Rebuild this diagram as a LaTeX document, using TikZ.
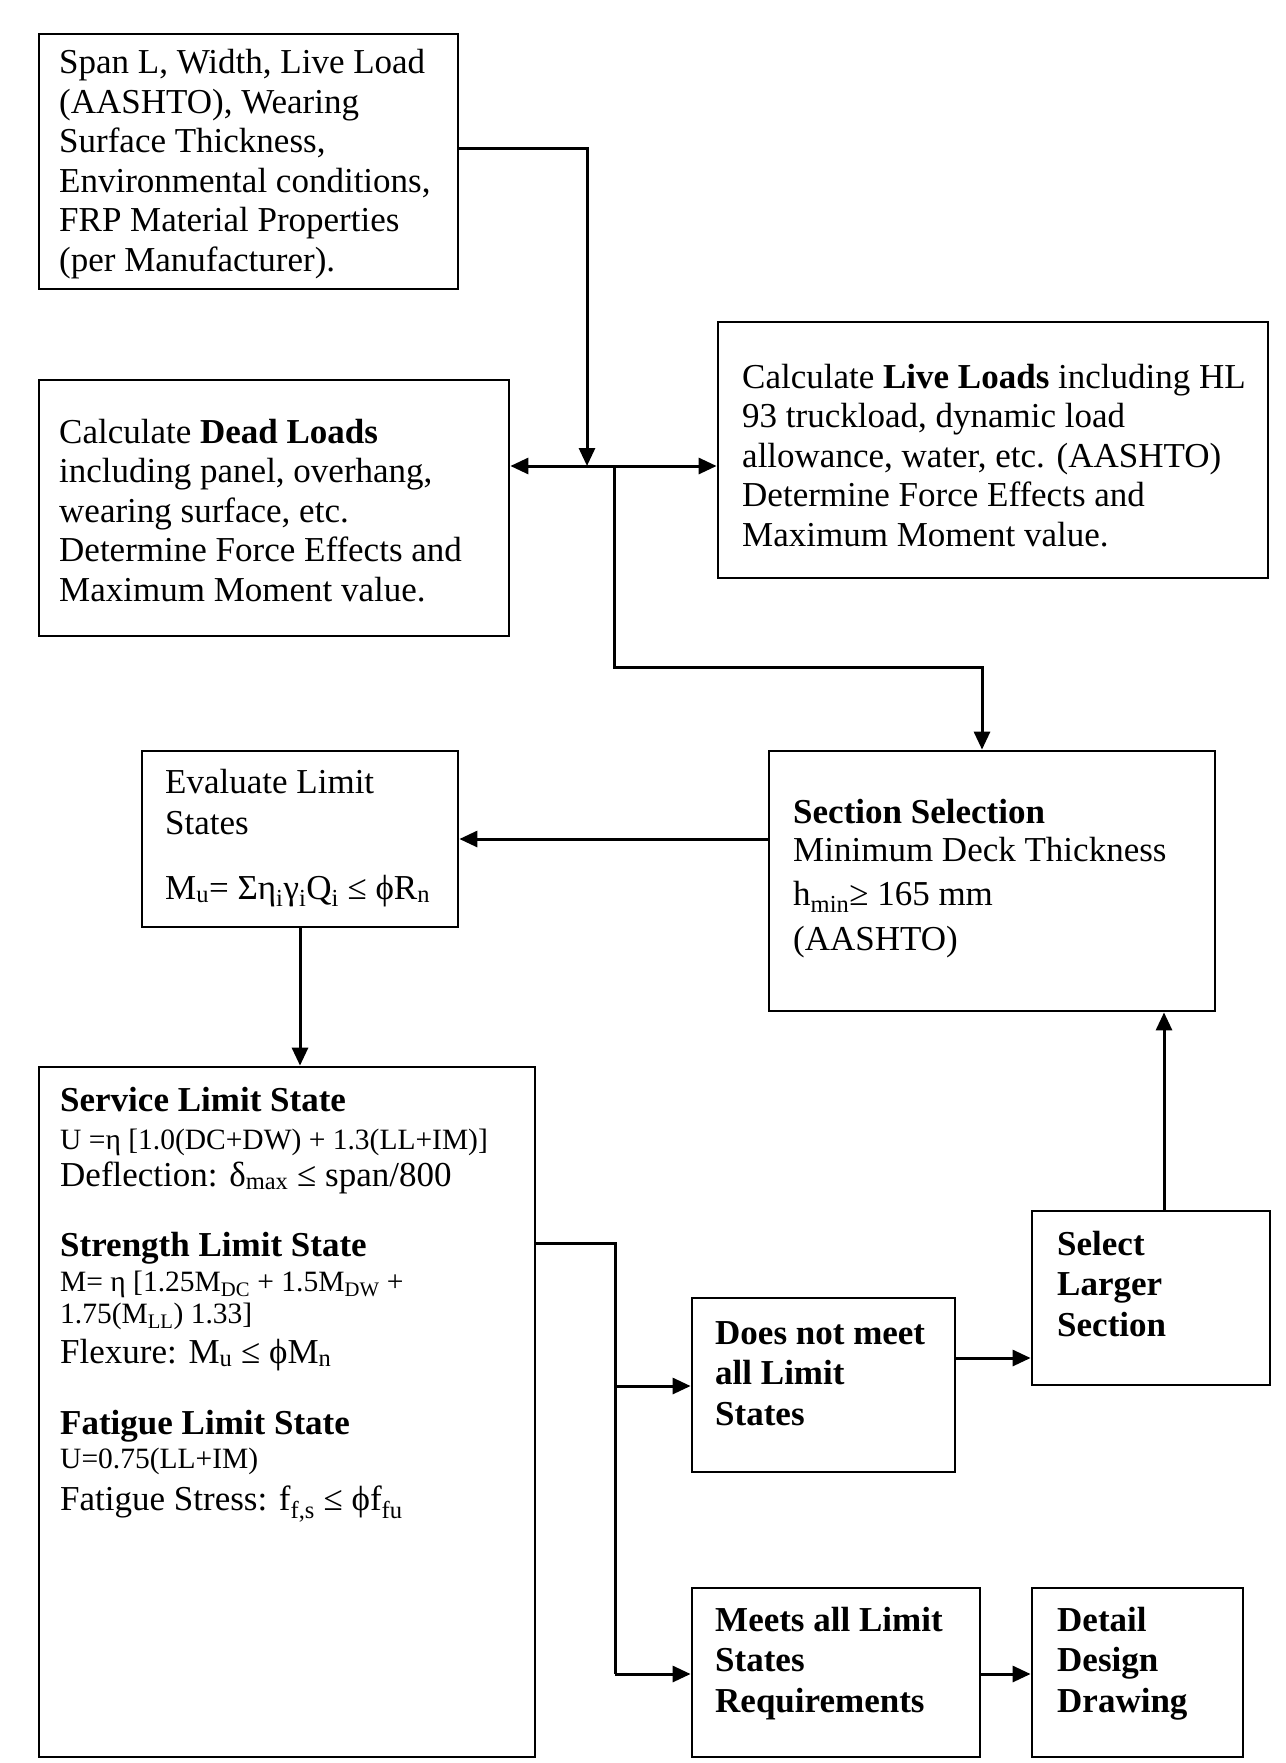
\documentclass[tikz,border=0pt]{standalone}
\usepackage{fontspec}
\setmainfont{Liberation Serif}
\usetikzlibrary{arrows.meta,calc}
\newcommand{\blk}[1]{\begin{tabular}[t]{@{}l@{}}#1\end{tabular}}
\newcommand{\sml}{\fontsize{29.5}{29.5}\selectfont}
\begin{document}
\begin{tikzpicture}[x=1pt,y=-1pt,
  box/.style={draw, line width=2.8pt, inner sep=0pt},
  txt/.style={anchor=base west, inner sep=0pt, font=\fontsize{35}{39.5}\selectfont},
  btxt/.style={anchor=base west, inner sep=0pt, font=\fontsize{35}{40.5}\selectfont\bfseries},
  stxt/.style={anchor=base west, inner sep=0pt, font=\fontsize{35}{35}\selectfont},
  conn/.style={line width=3pt},
  arr/.style={conn, -{Triangle[length=18pt,width=16pt]}},
  arrb/.style={conn, {Triangle[length=18pt,width=16pt]}-{Triangle[length=18pt,width=16pt]}}]
\fill[white] (0,0) rectangle (1285,1763);
\useasboundingbox (0,0) rectangle (1285,1763);

% boxes
\node[box, minimum width=419pt, minimum height=255pt] (inp) at (248.5,161.5) {};
\node[box, minimum width=470pt, minimum height=256pt] (dead) at (274,508) {};
\node[box, minimum width=550pt, minimum height=256pt] (live) at (993,450) {};
\node[box, minimum width=446pt, minimum height=260pt] (sect) at (992,881) {};
\node[box, minimum width=316pt, minimum height=176pt] (eval) at (300,839) {};
\node[box, minimum width=496pt, minimum height=690pt] (serv) at (287,1412) {};
\node[box, minimum width=263pt, minimum height=174pt] (does) at (823.5,1385) {};
\node[box, minimum width=238pt, minimum height=174pt] (sel) at (1151,1298) {};
\node[box, minimum width=288pt, minimum height=169pt] (meets) at (836,1672.5) {};
\node[box, minimum width=211pt, minimum height=169pt] (detail) at (1137.5,1672.5) {};

% texts
\node[txt] (inpT) at (59,74) {\blk{Span L, Width, Live Load\\(AASHTO), Wearing\\Surface Thickness,\\Environmental conditions,\\FRP Material Properties\\(per Manufacturer).}};
\node[txt] (deadT) at (59,443) {\blk{Calculate \textbf{Dead Loads}\\including panel, overhang,\\wearing surface, etc.\\Determine Force Effects and\\Maximum Moment value.}};
\node[txt] (liveT) at (742,388) {\blk{Calculate \textbf{Live Loads} including HL\\93 truckload, dynamic load\\allowance, water, etc. (AASHTO)\\Determine Force Effects and\\Maximum Moment value.}};
\node[txt] (evalT) at (165,793) {\blk{Evaluate Limit\\[1.5pt]States\\[25.5pt]M\textsubscript{u}= Ση\textsubscript{i}γ\textsubscript{i}Q\textsubscript{i} ≤ ϕR\textsubscript{n}}};
\node[txt] (sectT) at (793,823) {\blk{\textbf{Section Selection}\\[-1.5pt]Minimum Deck Thickness\\[4.5pt]h\textsubscript{min}≥ 165 mm\\[5.5pt](AASHTO)}};
\node[stxt] (servT) at (60,1111) {\blk{\textbf{Service Limit State}\\[3pt]
{\sml U =η [1.0(DC+DW) + 1.3(LL+IM)]}\\[2pt]
Deflection: δ\textsubscript{max} ≤ span/800\\[35pt]
\textbf{Strength Limit State}\\
{\sml M= η [1.25M\textsubscript{DC} + 1.5M\textsubscript{DW} +}\\[-3pt]
{\sml 1.75(M\textsubscript{LL}) 1.33]}\\[5pt]
Flexure: M\textsubscript{u} ≤ ϕM\textsubscript{n}\\[36pt]
\textbf{Fatigue Limit State}\\[-1pt]
{\sml U=0.75(LL+IM)}\\[7pt]
Fatigue Stress: f\textsubscript{f,s} ≤ ϕf\textsubscript{fu}}};
\node[btxt] (doesT) at (715,1344) {\blk{Does not meet\\all Limit\\States}};
\node[btxt] (selT) at (1057,1255) {\blk{Select\\Larger\\Section}};
\node[btxt] (meetsT) at (715,1631) {\blk{Meets all Limit\\States\\Requirements}};
\node[btxt] (detailT) at (1057,1631) {\blk{Detail\\Design\\Drawing}};

% connectors
\coordinate (j1) at (587,149);
\coordinate (j2) at (587,466);
\coordinate (j3) at (614,466);
\coordinate (j4) at (614,667);
\coordinate (j5) at (982,667);
\draw[arr] (inp.east |- j1) -- (j1) -- (j2);
\draw[arrb] (dead.east |- j2) -- (live.west |- j2);
\draw[arr] (j3) -- (j4) -- (j5) -- (j5 |- sect.north);
\draw[arr] (sect.west |- eval.east) -- (eval.east);
\draw[arr] (eval.south) -- (eval.south |- serv.north);
\coordinate (k1) at (615,1243);
\coordinate (k2) at (615,1386);
\coordinate (k3) at (615,1674);
\draw[conn] (serv.east |- k1) -- (k1) -- (k3);
\draw[arr] (k2) -- (does.west |- k2);
\draw[arr] (k3) -- (meets.west |- k3);
\coordinate (k4) at (955,1358);
\draw[arr] (does.east |- k4) -- (sel.west |- k4);
\coordinate (k5) at (1164,1211);
\draw[arr] (sel.north -| k5) -- (sect.south -| k5);
\draw[arr] (meets.east |- k3) -- (detail.west |- k3);
\end{tikzpicture}
\end{document}
